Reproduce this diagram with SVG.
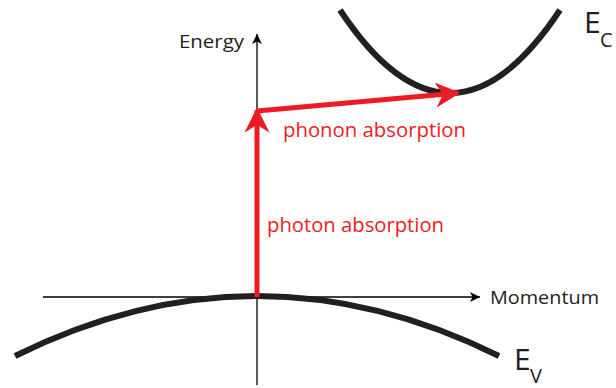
<svg xmlns="http://www.w3.org/2000/svg" width="616" height="388" viewBox="0 0 616 388">
<style>
.axis{stroke:#000;stroke-width:1.3;fill:none}
.band{stroke:#231f20;stroke-width:6;fill:none}
.red{stroke:#ed1c24;stroke-width:5;fill:none}
.lbl{font-family:"Open Sans","Liberation Sans",sans-serif;fill:#231f20}
.rl{font-family:"Open Sans","Liberation Sans",sans-serif;fill:#ed1c24;font-size:20px}
</style>
<defs>
<marker id="ah" viewBox="0 0 10 10" refX="10" refY="5" markerWidth="10" markerHeight="10" markerUnits="userSpaceOnUse" orient="auto"><path d="M0,0 L10,5 L0,10 L2.5,5 Z" fill="#000"/></marker>
<marker id="rh" viewBox="0 0 10 10" refX="9" refY="5" markerWidth="5" markerHeight="5" orient="auto"><path d="M0,0 L10,5 L0,10 L3,5 Z" fill="#ed1c24"/></marker>
</defs>
<g id="axes" class="connectors">
<line class="axis" x1="257" y1="385" x2="257" y2="34" marker-end="url(#ah)"/>
<line class="axis" x1="43" y1="297" x2="480" y2="297" marker-end="url(#ah)"/>
</g>
<g id="valence-band"><path class="band" d="M15,356 Q257,236 499,356"/></g>
<g id="conduction-band"><path class="band" d="M340,10 Q450,176 560,10"/></g>
<g id="transitions">
<line class="red" x1="257" y1="297" x2="257" y2="110" marker-end="url(#rh)"/>
<line class="red" x1="257" y1="111" x2="458" y2="93" marker-end="url(#rh)"/>
</g>
<g id="labels">
<text class="lbl" x="179" y="48" font-size="18" textLength="65" lengthAdjust="spacingAndGlyphs">Energy</text>
<text class="lbl" x="490" y="304" font-size="18" textLength="109" lengthAdjust="spacingAndGlyphs">Momentum</text>
<text class="lbl" x="584" y="33" font-size="30">E</text>
<text class="lbl" x="600" y="47" font-size="20">C</text>
<text class="lbl" x="514" y="370" font-size="30">E</text>
<text class="lbl" x="530" y="383" font-size="20">V</text>
<text class="rl" x="283" y="137" textLength="183" lengthAdjust="spacingAndGlyphs">phonon absorption</text>
<text class="rl" x="267" y="232" textLength="177" lengthAdjust="spacingAndGlyphs">photon absorption</text>
</g>
</svg>
